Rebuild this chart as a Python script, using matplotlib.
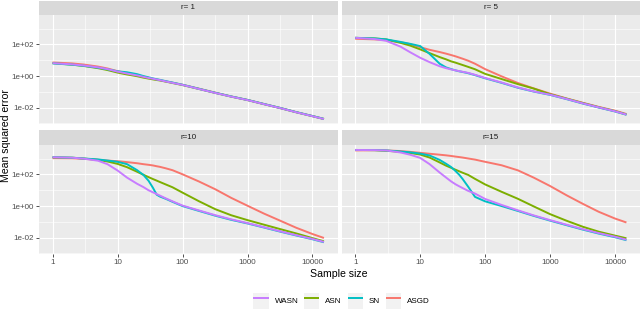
import numpy as np
import matplotlib.pyplot as plt
from matplotlib.lines import Line2D
from matplotlib.patches import Patch
from matplotlib.legend_handler import HandlerTuple
from matplotlib.ticker import FixedLocator, NullFormatter

plt.rcParams['font.family'] = ['Liberation Sans', 'DejaVu Sans']

# sample sizes shared by every curve
sample_size = [1, 2, 3, 5, 7, 10, 14, 20, 25, 30, 35, 40, 45, 55, 70,
               100, 180, 320, 560, 1000, 1800, 3200, 5600, 10000, 15000]

panel_labels = ['r= 1', 'r= 5', 'r=10', 'r=15']
method_names = ['WASN', 'ASN', 'SN', 'ASGD']
method_colors = ['#C77CFF', '#7CAE00', '#00BFC4', '#F8766D']
method_zorder = [5, 3, 4, 2]

# log10(mean squared error)
wasn_r1 = [0.82, 0.74, 0.67, 0.55, 0.44, 0.28, 0.16, 0.04, -0.05, -0.12, -0.17, -0.22, -0.26,
           -0.34, -0.43, -0.56, -0.82, -1.07, -1.30, -1.52, -1.78, -2.03, -2.29, -2.54, -2.72]
asn_r1 = [0.82, 0.72, 0.64, 0.50, 0.38, 0.22, 0.10, -0.01, -0.10, -0.16, -0.21, -0.25, -0.28,
          -0.35, -0.44, -0.57, -0.82, -1.07, -1.30, -1.52, -1.78, -2.03, -2.29, -2.54, -2.72]
sn_r1 = [0.80, 0.72, 0.65, 0.53, 0.43, 0.30, 0.24, 0.12, 0.00, -0.08, -0.15, -0.20, -0.24,
         -0.32, -0.41, -0.55, -0.81, -1.06, -1.29, -1.51, -1.77, -2.02, -2.28, -2.53, -2.71]
asgd_r1 = [0.86, 0.80, 0.73, 0.60, 0.48, 0.31, 0.18, 0.05, -0.04, -0.11, -0.17, -0.22, -0.26,
           -0.34, -0.42, -0.55, -0.80, -1.05, -1.29, -1.51, -1.77, -2.02, -2.28, -2.53, -2.71]

wasn_r5 = [2.42, 2.34, 2.23, 1.86, 1.51, 1.16, 0.88, 0.62, 0.50, 0.42, 0.36, 0.31, 0.27,
           0.20, 0.08, -0.12, -0.41, -0.72, -0.97, -1.18, -1.45, -1.73, -1.98, -2.23, -2.44]
asn_r5 = [2.42, 2.38, 2.32, 2.10, 1.93, 1.69, 1.45, 1.20, 1.06, 0.93, 0.85, 0.77, 0.70,
          0.58, 0.43, 0.14, -0.19, -0.51, -0.79, -1.15, -1.43, -1.71, -1.97, -2.22, -2.43]
sn_r5 = [2.42, 2.38, 2.32, 2.16, 2.04, 1.90, 1.40, 0.78, 0.55, 0.44, 0.36, 0.30, 0.26,
         0.18, 0.06, -0.14, -0.43, -0.74, -0.98, -1.19, -1.46, -1.74, -1.99, -2.24, -2.45]
asgd_r5 = [2.36, 2.32, 2.27, 2.14, 2.02, 1.83, 1.66, 1.52, 1.42, 1.33, 1.25, 1.17, 1.10,
           0.97, 0.78, 0.44, -0.02, -0.44, -0.78, -1.11, -1.42, -1.69, -1.95, -2.19, -2.40]

wasn_r10 = [3.09, 3.06, 3.00, 2.87, 2.65, 2.25, 1.80, 1.41, 1.20, 1.00, 0.87, 0.76, 0.66,
            0.49, 0.30, 0.03, -0.28, -0.58, -0.84, -1.08, -1.34, -1.60, -1.84, -2.08, -2.27]
asn_r10 = [3.09, 3.06, 3.01, 2.92, 2.82, 2.67, 2.46, 2.17, 1.98, 1.83, 1.71, 1.61, 1.52,
           1.37, 1.19, 0.85, 0.30, -0.20, -0.58, -0.89, -1.18, -1.46, -1.73, -2.03, -2.23]
sn_r10 = [3.09, 3.06, 3.01, 2.95, 2.88, 2.80, 2.65, 2.27, 1.97, 1.60, 1.16, 0.72, 0.60,
          0.46, 0.27, 0.00, -0.31, -0.61, -0.87, -1.10, -1.36, -1.62, -1.86, -2.10, -2.29]
asgd_r10 = [3.03, 3.02, 2.99, 2.93, 2.88, 2.84, 2.78, 2.71, 2.65, 2.61, 2.57, 2.52, 2.48,
            2.39, 2.27, 2.01, 1.55, 1.06, 0.52, 0.02, -0.48, -0.93, -1.37, -1.77, -2.02]

wasn_r15 = [3.55, 3.54, 3.52, 3.39, 3.25, 3.05, 2.65, 2.12, 1.81, 1.56, 1.38, 1.25, 1.14,
            0.96, 0.79, 0.45, 0.07, -0.27, -0.59, -0.89, -1.18, -1.46, -1.71, -1.94, -2.13]
asn_r15 = [3.55, 3.54, 3.50, 3.43, 3.36, 3.26, 3.07, 2.76, 2.56, 2.42, 2.30, 2.20, 2.11,
           1.97, 1.72, 1.37, 0.90, 0.46, -0.02, -0.51, -0.93, -1.31, -1.62, -1.87, -2.04]
sn_r15 = [3.55, 3.54, 3.52, 3.45, 3.40, 3.32, 3.20, 2.92, 2.68, 2.47, 2.22, 1.98, 1.72,
          1.22, 0.58, 0.30, 0.00, -0.31, -0.62, -0.92, -1.21, -1.49, -1.74, -1.97, -2.16]
asgd_r15 = [3.52, 3.53, 3.52, 3.48, 3.43, 3.37, 3.31, 3.25, 3.21, 3.17, 3.13, 3.10, 3.07,
            3.01, 2.94, 2.80, 2.58, 2.26, 1.80, 1.27, 0.68, 0.14, -0.36, -0.79, -1.04]

panel_curves = [
    [wasn_r1, asn_r1, sn_r1, asgd_r1],
    [wasn_r5, asn_r5, sn_r5, asgd_r5],
    [wasn_r10, asn_r10, sn_r10, asgd_r10],
    [wasn_r15, asn_r15, sn_r15, asgd_r15],
]

W, H = 640, 310


def px_rect(x0, y0, x1, y1):
    return [x0 / W, 1 - y1 / H, (x1 - x0) / W, (y1 - y0) / H]


panel_px = [(39, 15, 337.5, 124), (341.6, 15, 640, 124),
            (39, 145, 337.5, 254), (341.6, 145, 640, 254)]
strip_px = [(39, 0.5, 337.5, 15), (341.6, 0.5, 640, 15),
            (39, 130, 337.5, 145), (341.6, 130, 640, 145)]

# ggplot-like 5% expansion on the log scale
all_y = np.concatenate([np.array(c) for p in panel_curves for c in p])
ylo, yhi = all_y.min(), all_y.max()
ypad = 0.05 * (yhi - ylo)
lx = np.log10(sample_size)
xpad = 0.05 * (lx.max() - lx.min())

fig = plt.figure(figsize=(W / 100, H / 100), dpi=100)

for i in range(4):
    ax = fig.add_axes(px_rect(*panel_px[i]))
    ax.set_facecolor('#EBEBEB')
    for s in ax.spines.values():
        s.set_visible(False)
    for name, color, z, vals in zip(method_names, method_colors, method_zorder, panel_curves[i]):
        ax.plot(sample_size, 10.0 ** np.array(vals), color=color, lw=1.4,
                zorder=z, solid_capstyle='butt', solid_joinstyle='round')
    ax.set_xscale('log')
    ax.set_yscale('log')
    ax.set_xlim(10 ** (lx.min() - xpad), 10 ** (lx.max() + xpad))
    ax.set_ylim(10 ** (ylo - ypad), 10 ** (yhi + ypad))

    ax.xaxis.set_major_locator(FixedLocator([1, 10, 100, 1000, 10000]))
    ax.xaxis.set_minor_locator(FixedLocator([10 ** 0.5, 10 ** 1.5, 10 ** 2.5, 10 ** 3.5]))
    ax.yaxis.set_major_locator(FixedLocator([1e-2, 1, 1e2]))
    ax.yaxis.set_minor_locator(FixedLocator([1e-3, 1e-1, 1e1, 1e3]))
    ax.xaxis.set_minor_formatter(NullFormatter())
    ax.yaxis.set_minor_formatter(NullFormatter())
    ax.grid(which='major', color='white', lw=0.8)
    ax.grid(which='minor', color='white', lw=0.4)
    ax.set_axisbelow(True)
    ax.tick_params(which='minor', length=0)
    ax.tick_params(which='major', length=2.2, width=0.6, color='#333333',
                   labelsize=5.8, labelcolor='#4D4D4D', pad=1.5)

    if i >= 2:
        ax.set_xticklabels(['1', '10', '100', '1000', '10000'])
    else:
        ax.tick_params(axis='x', which='both', length=0, labelbottom=False)
    if i % 2 == 0:
        ax.set_yticklabels(['1e-02', '1e+00', '1e+02'])
    else:
        ax.tick_params(axis='y', which='both', length=0, labelleft=False)

    sax = fig.add_axes(px_rect(*strip_px[i]))
    sax.set_facecolor('#D9D9D9')
    for s in sax.spines.values():
        s.set_visible(False)
    sax.set_xticks([])
    sax.set_yticks([])
    sax.text(0.5, 0.5, panel_labels[i], ha='center', va='center',
             fontsize=5.8, color='#1A1A1A', transform=sax.transAxes)

fig.text(6 / W, 1 - 135 / H, 'Mean squared error', rotation=90,
         ha='center', va='center', fontsize=7.6)
fig.text(339 / W, 1 - 274 / H, 'Sample size', ha='center', va='center', fontsize=7.6)

# legend keys: grey square with the coloured line on top of it
handles = [(Patch(facecolor='#F2F2F2', edgecolor='none'),
            Line2D([], [], color=c, lw=1.4, solid_capstyle='butt'))
           for c in method_colors]
fig.legend(handles, method_names, loc='center', ncol=4,
           bbox_to_anchor=(341.5 / W, 1 - 301 / H), frameon=False,
           fontsize=5.8, handlelength=1.9, handleheight=2.5,
           handletextpad=0.75, columnspacing=0.7, borderpad=0, borderaxespad=0,
           handler_map={tuple: HandlerTuple(ndivide=1, pad=0)})

fig.savefig('out.png', dpi=100, facecolor='white')
